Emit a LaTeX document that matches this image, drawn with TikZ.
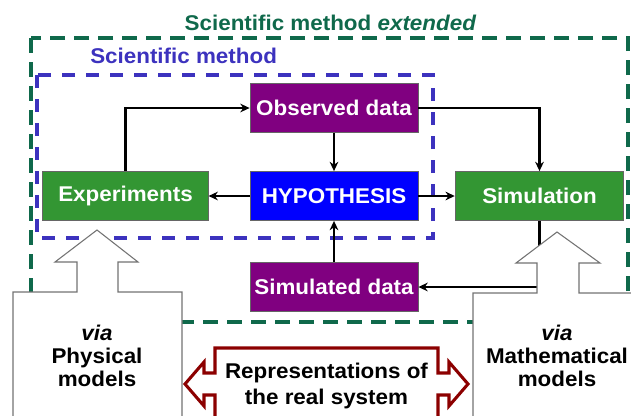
\documentclass[tikz,border=0pt]{standalone}
\usepackage{fontspec}
\setmainfont[FakeStretch=1.05]{Liberation Sans}
\usetikzlibrary{arrows.meta}

\definecolor{verdescuro}{RGB}{15,105,75}
\definecolor{blumetodo}{RGB}{60,50,190}
\definecolor{verdeblocco}{RGB}{51,150,51}
\definecolor{viola}{RGB}{128,0,128}
\definecolor{bluipotesi}{RGB}{0,0,255}
\definecolor{rossoscuro}{RGB}{140,0,0}

\tikzset{
	blocco/.style={draw=black!60, line width=0.6pt, text=white, inner sep=0pt,
		font=\bfseries\fontsize{16}{19}\selectfont, minimum height=36.75pt},
	freccia/.style={line width=2.2pt, -{Stealth[length=7pt,width=6.5pt]}},
	bianca/.style={fill=white, draw=black!55, line width=0.8pt},
	testo/.style={align=center, font=\bfseries\fontsize{16}{17.5}\selectfont},
}

\begin{document}
\begin{tikzpicture}[x=0.75pt, y=-0.75pt]
		\useasboundingbox (0,0) rectangle (631,415);
		\clip (0,0) rectangle (631,415);

		% riquadri tratteggiati
		\draw[color=verdescuro, line width=2.6pt, dash pattern=on 11pt off 7pt] (31,38) rectangle (628,322);
		\draw[color=blumetodo, line width=2.4pt, dash pattern=on 10pt off 8pt] (37,75) rectangle (433,238);
		\node[color=verdescuro, font=\bfseries\fontsize{16}{19}\selectfont, anchor=base] (esteso) at (330.5,30) {Scientific method \textit{extended}};
		\node[color=blumetodo, font=\bfseries\fontsize{16}{19}\selectfont, anchor=base west, inner sep=0pt] (metodo) at (90,63) {Scientific method};

		% blocchi
		\node[blocco, fill=viola, minimum width=126pt] (osservati) at (334,108) {Observed data};
		\node[blocco, fill=bluipotesi, minimum width=126pt] (ipotesi) at (334,196) {HYPOTHESIS};
		\node[blocco, fill=verdeblocco, minimum width=124pt] (esperimenti) at (125.5,196) {Experiments};
		\node[blocco, fill=verdeblocco, minimum width=126.5pt] (simulazione) at (539.5,196) {Simulation};
		\node[blocco, fill=viola, minimum width=126pt] (simulati) at (334,287) {Simulated data};

		% frecce
		\draw[freccia] (esperimenti.north) |- (osservati.west);
		\draw[freccia] (osservati.east) -| (simulazione.north);
		\draw[freccia] (osservati) -- (ipotesi);
		\draw[freccia] (ipotesi) -- (esperimenti);
		\draw[freccia] (ipotesi) -- (simulazione);
		\draw[freccia] (simulati) -- (ipotesi);
		\draw[freccia] (simulazione.south) |- (simulati.east);

		% frecce bianche dei modelli
		\draw[bianca] (97,230) -- (138,262) -- (118,262) -- (118,292) -- (182,292) -- (182,425)
			-- (13,425) -- (13,292) -- (77,292) -- (77,262) -- (55,262) -- cycle;
		\draw[bianca] (557,232) -- (600,263) -- (579,263) -- (579,293) -- (645,293) -- (645,425)
			-- (473,425) -- (473,293) -- (537,293) -- (537,263) -- (516,263) -- cycle;
		\node[testo] (fisici) at (97,356) {\textit{via}\\Physical\\models};
		\node[testo] (matematici) at (557,356) {\textit{via}\\Mathematical\\models};

		% doppia freccia rossa
		\draw[fill=white, draw=rossoscuro, line width=2.3pt, line join=miter]
			(215,348) -- (438,348) -- (438,373) -- (449,373) -- (449,362) -- (468,384) -- (449,406)
			-- (449,395) -- (438,395) -- (438,425) -- (215,425) -- (215,395) -- (204,395) -- (204,406)
			-- (185,384) -- (204,362) -- (204,373) -- (215,373) -- cycle;
		\node[testo, font=\bfseries\fontsize{16}{19.5}\selectfont] (sistema) at (326.5,386) {Representations of\\the real system};
\end{tikzpicture}
\end{document}
